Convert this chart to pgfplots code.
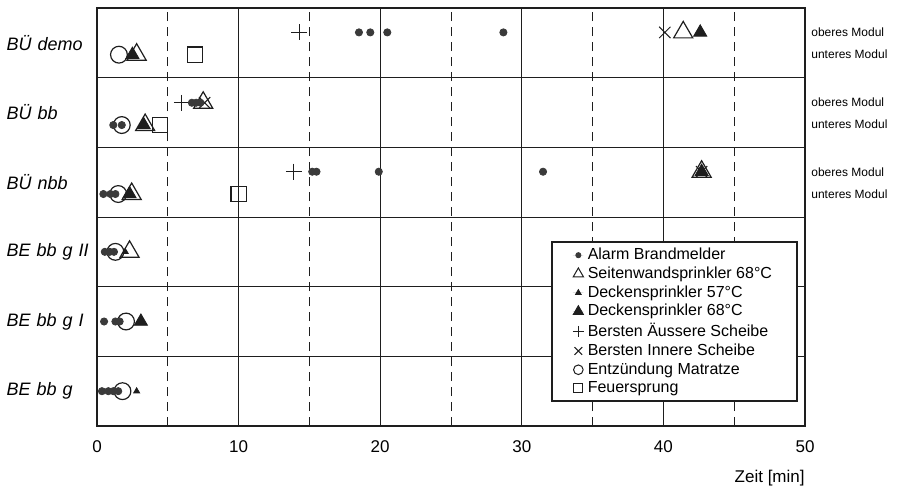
\documentclass[border=0pt]{standalone}
\usepackage{fontspec}
\setmainfont{Liberation Sans}
\usepackage{pgfplots}
\pgfplotsset{compat=1.18}
\definecolor{ink}{HTML}{1E1E1E}
\definecolor{dotc}{HTML}{3A3A3A}
\begin{document}
\begin{tikzpicture}
\begin{axis}[
  scale only axis, width=354pt, height=209pt,
  xmin=0, xmax=50, ymin=0, ymax=6,
  clip=false,
  axis line style={ink, line width=0.7pt},
  font=\fontsize{8.5}{10}\selectfont,
  /pgf/number format/assume math mode=true,
  xtick={0,10,...,50},
  minor xtick={5,15,...,45},
  ytick={0.5,1.5,...,5.5},
  yticklabels={BE bb g, BE bb g I, BE bb g II, BÜ nbb, BÜ bb, BÜ demo},
  yticklabel style={font=\fontsize{9}{10}\selectfont\itshape, text width=44pt, align=left, inner sep=0pt, xshift=-1pt},
  xticklabel style={yshift=-4pt},
  major tick length=0pt, minor tick length=0pt,
  xmajorgrids, xminorgrids,
  major grid style={ink, line width=0.5pt},
  minor grid style={ink, line width=0.5pt, dash pattern=on 4.5pt off 3pt},
  extra y ticks={1,2,3,4,5},
  extra y tick labels={},
  extra y tick style={ymajorgrids=true, major grid style={ink, line width=0.5pt, solid}},
  xlabel={Zeit [min]},
  xlabel style={at={(rel axis cs:1,0)}, anchor=north east, inner sep=0pt, yshift=-22pt},
  legend style={at={(rel axis cs:0.99,0.4426)}, anchor=north east, draw=ink, line width=0.9pt,
    font=\fontsize{8}{9}\selectfont, cells={anchor=west}, row sep=-1.9pt, column sep=0pt,
    inner xsep=10.5pt, inner ysep=1pt},
  legend image code/.code={\draw[#1] plot coordinates {(0pt,0pt)}; \path[draw=none] (-2.7pt,0pt) -- (2.5pt,0pt);},
]
% legend entries
\addlegendimage{only marks, mark=*, mark size=1.3pt, draw=dotc, fill=dotc, line width=0.4pt}
\addlegendentry{Alarm Brandmelder}
\addlegendimage{only marks, mark=triangle, mark size=3pt, draw=ink, line width=0.5pt}
\addlegendentry{Seitenwandsprinkler 68°C}
\addlegendimage{only marks, mark=triangle*, mark size=1.6pt, draw=ink, fill=ink, line width=0.4pt}
\addlegendentry{Deckensprinkler 57°C}
\addlegendimage{only marks, mark=triangle*, mark size=3pt, draw=ink, fill=ink, line width=0.4pt}
\addlegendentry{Deckensprinkler 68°C}
\addlegendimage{only marks, mark=+, mark size=2.7pt, draw=ink, line width=0.5pt}
\addlegendentry{Bersten Äussere Scheibe}
\addlegendimage{only marks, mark=x, mark size=2.7pt, draw=ink, line width=0.5pt}
\addlegendentry{Bersten Innere Scheibe}
\addlegendimage{only marks, mark=o, mark size=2.4pt, draw=ink, line width=0.5pt}
\addlegendentry{Entzündung Matratze}
\addlegendimage{only marks, mark=square, mark size=2.2pt, draw=ink, line width=0.5pt}
\addlegendentry{Feuersprung}

% Entzündung Matratze
\addplot[forget plot, only marks, mark=o, mark size=4.2pt, draw=ink, line width=0.6pt] coordinates {
  (1.55,5.33) (1.75,4.32) (1.5,3.33) (1.3,2.5) (2.05,1.5) (1.8,0.5)};
% Feuersprung
\addplot[forget plot, only marks, mark=square, mark size=3.8pt, draw=ink, line width=0.6pt] coordinates {
  (6.9,5.33) (4.45,4.32) (10.0,3.33)};
% Seitenwandsprinkler 68°C
\addplot[forget plot, only marks, mark=triangle, mark size=5.5pt, draw=ink, line width=0.6pt] coordinates {
  (41.4,5.65) (2.8,5.33) (7.5,4.64) (3.4,4.32) (42.7,3.65) (2.45,3.33) (2.3,2.5)};
% Deckensprinkler 68°C
\addplot[forget plot, only marks, mark=triangle*, mark size=3.8pt, draw=ink, fill=ink, line width=0.4pt] coordinates {
  (42.6,5.65) (2.5,5.33) (3.3,4.32) (42.7,3.65) (2.3,3.33) (3.1,1.5)};
% Deckensprinkler 57°C
\addplot[forget plot, only marks, mark=triangle*, mark size=1.7pt, draw=ink, fill=ink, line width=0.4pt] coordinates {
  (2.0,2.5) (2.8,0.5)};
% Bersten Äussere Scheibe
\addplot[forget plot, only marks, mark=+, mark size=4pt, draw=ink, line width=0.5pt] coordinates {
  (14.3,5.65) (6.0,4.64) (13.9,3.65)};
% Bersten Innere Scheibe
\addplot[forget plot, only marks, mark=x, mark size=4pt, draw=ink, line width=0.5pt] coordinates {
  (40.1,5.65) (7.6,4.64) (42.7,3.65)};
% Alarm Brandmelder
\addplot[forget plot, only marks, mark=*, mark size=1.8pt, draw=dotc, fill=dotc] coordinates {
  (18.5,5.65) (19.3,5.65) (20.5,5.65) (28.7,5.65)
  (6.7,4.64) (7.0,4.64) (7.3,4.64)
  (1.15,4.32) (1.75,4.32)
  (15.2,3.65) (15.5,3.65) (19.9,3.65) (31.5,3.65)
  (0.45,3.33) (0.95,3.33) (1.3,3.33)
  (0.55,2.5) (0.9,2.5) (1.2,2.5)
  (0.5,1.5) (1.3,1.5) (1.6,1.5)
  (0.35,0.5) (0.8,0.5) (1.15,0.5) (1.5,0.5)};

% module labels on the right
\tikzset{modlab/.style={anchor=west, inner sep=0pt, font=\fontsize{6}{7}\selectfont, xshift=3pt}}
\node[modlab] at (axis cs:50,5.65) {oberes Modul};
\node[modlab] at (axis cs:50,5.33) {unteres Modul};
\node[modlab] at (axis cs:50,4.65) {oberes Modul};
\node[modlab] at (axis cs:50,4.33) {unteres Modul};
\node[modlab] at (axis cs:50,3.65) {oberes Modul};
\node[modlab] at (axis cs:50,3.33) {unteres Modul};
\end{axis}
\path (-48.5pt,-31pt) rectangle (400.5pt,213pt);
\end{tikzpicture}
\end{document}
